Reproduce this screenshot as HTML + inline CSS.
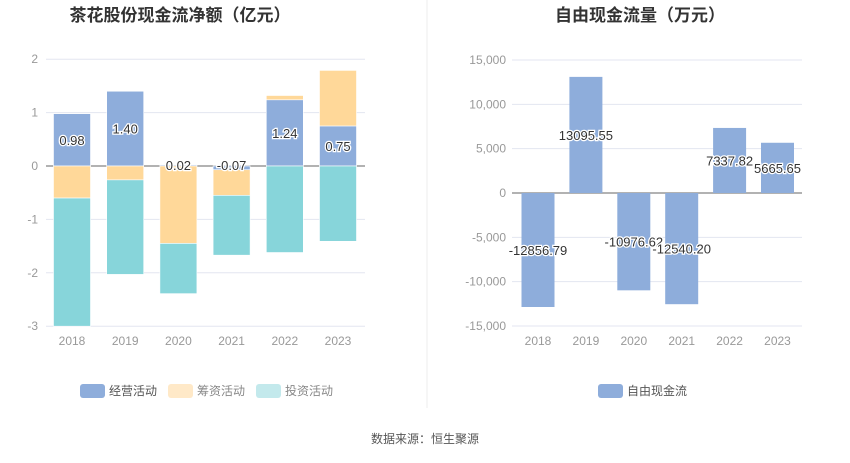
<!DOCTYPE html>
<html><head><meta charset="utf-8"><style>
body{margin:0;background:#fff;font-family:"Liberation Sans","Noto Sans CJK SC",sans-serif}
svg text{font-family:"Liberation Sans","Noto Sans CJK SC",sans-serif}
</style></head><body>
<svg id="c" width="850" height="458">
<text x="180" y="21" text-anchor="middle" font-size="17" font-weight="bold" fill="#333">茶花股份现金流净额（亿元）</text>
<text x="640" y="21" text-anchor="middle" font-size="17" font-weight="bold" fill="#333">自由现金流量（万元）</text>
<line x1="427" y1="0" x2="427" y2="408" stroke="#eee"/>
<g id="L"></g><g id="R"></g>
<g>
<rect x="80" y="384" width="25" height="14" rx="3" fill="#8eaddb"/>
<text x="109" y="395" font-size="12" fill="#555">经营活动</text>
<rect x="168" y="384" width="25" height="14" rx="3" fill="#ffe9c8"/>
<text x="197" y="395" font-size="12" fill="#888">筹资活动</text>
<rect x="256" y="384" width="25" height="14" rx="3" fill="#c3e9ec"/>
<text x="285" y="395" font-size="12" fill="#888">投资活动</text>
</g>
<g>
<rect x="598" y="384" width="25" height="14" rx="3" fill="#8eaddb"/>
<text x="627" y="395" font-size="12" fill="#555">自由现金流</text>
</g>
<text x="425" y="443" text-anchor="middle" font-size="12" fill="#555">数据来源：恒生聚源</text>
</svg>
<script>
const years=["2018","2019","2020","2021","2022","2023"];
const operating=[0.98,1.40,0.02,-0.07,1.24,0.75];
const financing=[-0.60,-0.26,-1.45,-0.48,0.08,1.04];
const investing=[-2.40,-1.77,-0.94,-1.12,-1.62,-1.41];
const leftTicks=[2,1,0,-1,-2,-3];
const fcf=[-12856.79,13095.55,-10976.62,-12540.20,7337.82,5665.65];
const fcfLabels=["-12856.79","13095.55","-10976.62","-12540.20","7337.82","5665.65"];
const rightTicks=[15000,10000,5000,0,-5000,-10000,-15000];
const rightTickLabels=["15,000","10,000","5,000","0","-5,000","-10,000","-15,000"];
const NS="http://www.w3.org/2000/svg";
function mk(p,t,a,txt){const e=document.createElementNS(NS,t);for(const k in a)e.setAttribute(k,a[k]);if(txt!==undefined)e.textContent=txt;p.appendChild(e);return e;}
// left
const L=document.getElementById('L');
const ly=v=>166-v*53.4, lx=i=>72+i*53.2;
leftTicks.forEach(t=>{
 const g=mk(L,'line',{x1:46,x2:365,y1:ly(t),y2:ly(t),stroke:t===0?'#666':'#e3e6f0'});
 
 
 const tx=mk(L,'text',{x:38,y:ly(t)+4,'text-anchor':'end','font-size':12,fill:'#999'},String(t));
 
 
});
years.forEach((y,i)=>{
 let pos=0,neg=0;
 [[operating,'#8eaddb','bar-operating'],[financing,'#ffd899','bar-financing'],[investing,'#87d5da','bar-investing']].forEach(([arr,col,nm])=>{
  const v=arr[i];let a,b;
  if(v>=0){a=pos;b=pos+v;pos=b;}else{a=neg;b=neg+v;neg=b;}
  const r=mk(L,'rect',{x:lx(i)-18.5,width:37,y:Math.min(ly(a),ly(b)),height:Math.abs(ly(a)-ly(b)),fill:col,stroke:'#fff','stroke-width':0.6});
  
  
 });
 const v=operating[i];
 const lyv=Math.abs(v)<0.2?ly(0)+4:ly(v/2)+5;
 const t=mk(L,'text',{x:lx(i),y:lyv,'text-anchor':'middle','font-size':13,fill:'#333',stroke:'#fff','stroke-width':2.5,'paint-order':'stroke'},v.toFixed(2));
 
 
 const xt=mk(L,'text',{x:lx(i),y:345,'text-anchor':'middle','font-size':12,fill:'#999'},y);
 
 
});
// right
const R=document.getElementById('R');
const ry=v=>193-v*0.008867, rx=i=>538+i*47.9;
rightTicks.forEach((t,k)=>{
 const g=mk(R,'line',{x1:512,x2:802,y1:ry(t),y2:ry(t),stroke:t===0?'#666':'#e3e6f0'});
 
 
 const tx=mk(R,'text',{x:506,y:ry(t)+4,'text-anchor':'end','font-size':12,fill:'#999'},rightTickLabels[k]);
 
 
});
years.forEach((y,i)=>{
 const v=fcf[i];
 const r=mk(R,'rect',{x:rx(i)-16.5,width:33,y:Math.min(ry(0),ry(v)),height:Math.abs(ry(0)-ry(v)),fill:'#8eaddb'});
 
 
 const t=mk(R,'text',{x:rx(i),y:ry(v/2)+5,'text-anchor':'middle','font-size':13,fill:'#333',stroke:'#fff','stroke-width':2.5,'paint-order':'stroke'},fcfLabels[i]);
 
 
 const xt=mk(R,'text',{x:rx(i),y:345,'text-anchor':'middle','font-size':12,fill:'#999'},y);
 
 
});
</script>
</body></html>
